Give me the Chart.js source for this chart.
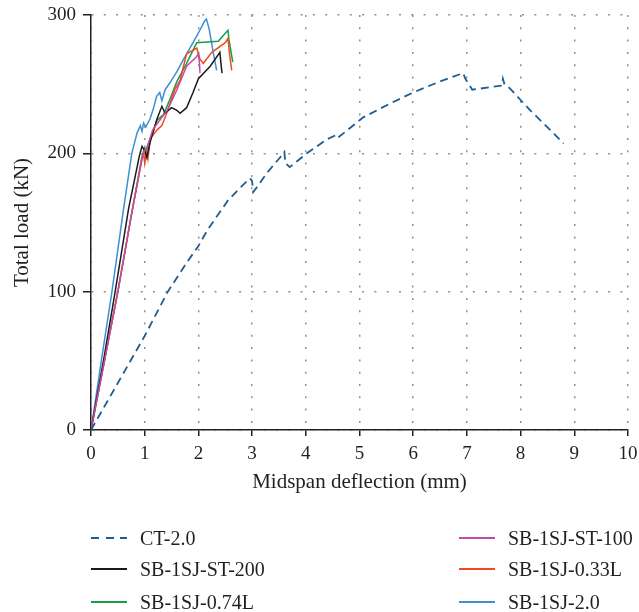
<!DOCTYPE html>
<html>
<head>
<meta charset="utf-8">
<script src="https://cdn.jsdelivr.net/npm/chart.js@4"></script>
<style>
  body { margin: 0; background: #fff; }
  #wrap { position: relative; width: 639px; height: 612px; }
  #legend { position: absolute; left: 0; top: 0; width: 639px; height: 612px; pointer-events: none;
            font-family: "Liberation Serif", serif; font-size: 20px; color: #231f20; }
  .item { position: absolute; height: 24px; line-height: 24px; white-space: nowrap; }
  .swatch { position: absolute; top: 11px; width: 36px; height: 2px; }
  .label { position: absolute; left: 49px; top: 0; }
</style>
</head>
<body>
<div id="wrap">
  <canvas id="loadChart" width="639" height="500"></canvas>
  <div id="legend"></div>
</div>
<script>
// deflection (mm) / total load (kN)
const ctX = [0, 0.5, 1.0, 1.43, 1.8, 2.0, 2.16, 2.55, 2.8, 2.96, 3.0, 3.02, 3.1, 3.28, 3.52, 3.6, 3.62, 3.7, 4.02, 4.39, 4.55, 4.58, 4.62, 5.07, 5.57, 6.0, 6.5, 6.93, 6.97, 7.1, 7.65, 7.67, 7.7, 7.8, 8.18, 8.55, 8.8];
const ctY = [0, 34, 68, 100, 122, 133, 144, 166, 176, 182, 180, 172, 176, 186, 197, 201, 193, 190, 200, 210, 213, 211, 212, 226, 236, 244, 252, 258, 254, 246, 249, 254, 250, 247, 231, 217, 207];

const st200X = [0, 0.25, 0.45, 0.7, 0.9, 0.95, 1.0, 1.04, 1.1, 1.23, 1.32, 1.38, 1.5, 1.6, 1.66, 1.78, 1.9, 2.0, 2.22, 2.4, 2.42, 2.44];
const st200Y = [0, 54, 100, 160, 198, 205, 202, 197, 208, 225, 234, 229, 233, 231, 229, 233, 244, 254, 263, 273, 265, 258];

const l074X = [0, 0.25, 0.5, 0.75, 0.95, 1.0, 1.02, 1.05, 1.1, 1.23, 1.35, 1.47, 1.6, 1.78, 1.97, 2.37, 2.55, 2.57, 2.64];
const l074Y = [0, 50, 100, 155, 198, 204, 197, 205, 210, 224, 228, 239, 252, 265, 280, 281, 289, 282, 266];

const st100X = [0, 0.25, 0.5, 0.75, 0.95, 1.0, 1.05, 1.15, 1.3, 1.42, 1.6, 1.78, 1.97, 2.0, 2.02, 2.03];
const st100Y = [0, 50, 100, 155, 196, 202, 205, 217, 225, 231, 246, 263, 270, 272, 265, 258];

const l033X = [0, 0.25, 0.5, 0.75, 0.95, 0.98, 1.0, 1.03, 1.06, 1.1, 1.15, 1.23, 1.32, 1.4, 1.56, 1.66, 1.78, 1.97, 2.03, 2.09, 2.25, 2.5, 2.55, 2.58, 2.62];
const l033Y = [0, 50, 100, 155, 196, 200, 193, 202, 196, 210, 213, 217, 220, 228, 246, 253, 272, 276, 268, 265, 273, 280, 283, 272, 260];

const sj20X = [0, 0.2, 0.39, 0.6, 0.76, 0.86, 0.92, 0.95, 0.98, 1.02, 1.1, 1.16, 1.22, 1.28, 1.32, 1.38, 1.47, 1.6, 1.71, 1.9, 2.0, 2.12, 2.15, 2.2, 2.28, 2.34];
const sj20Y = [0, 52, 100, 158, 200, 215, 220, 216, 222, 219, 225, 232, 241, 244, 238, 246, 251, 259, 267, 280, 287, 296, 297, 290, 272, 260];

const xTicks = [0, 1, 2, 3, 4, 5, 6, 7, 8, 9, 10];
const yTicks = [0, 100, 200, 300];

const FONT = '"Liberation Serif", serif';
const INK = '#231f20';

function pts(xs, ys) {
    return xs.map(function(x, i) { return { x: x, y: ys[i] }; });
}

const series = [
    { label: 'CT-2.0', x: ctX, y: ctY, color: '#1f5d91', dash: [8, 5], width: 1.8 },
    { label: 'SB-1SJ-ST-100', x: st100X, y: st100Y, color: '#c54aa6', width: 1.5 },
    { label: 'SB-1SJ-ST-200', x: st200X, y: st200Y, color: '#1a1a1a', width: 1.5 },
    { label: 'SB-1SJ-0.33L', x: l033X, y: l033Y, color: '#f04a23', width: 1.5 },
    { label: 'SB-1SJ-0.74L', x: l074X, y: l074Y, color: '#1a9c48', width: 1.5 },
    { label: 'SB-1SJ-2.0', x: sj20X, y: sj20Y, color: '#3d8fd8', width: 1.5 },
];

// legend layout: 3 rows x 2 columns, like the figure
const legendRows = [
    ['CT-2.0', 'SB-1SJ-ST-100'],
    ['SB-1SJ-ST-200', 'SB-1SJ-0.33L'],
    ['SB-1SJ-0.74L', 'SB-1SJ-2.0'],
];

document.addEventListener("DOMContentLoaded", function() {
    const datasets = series.map(function(s) {
        return {
            label: s.label,
            data: pts(s.x, s.y),
            borderColor: s.color,
            borderWidth: s.width,
            borderDash: s.dash || [],
            pointRadius: 0,
            tension: 0,
            fill: false,
        };
    });

    const ctx = document.getElementById('loadChart').getContext('2d');
    new Chart(ctx, {
        type: 'line',
        data: { datasets: datasets },
        options: {
            responsive: false,
            animation: false,
            devicePixelRatio: 1,
            layout: { padding: { top: 15, right: 11, left: 0, bottom: 0 } },
            plugins: {
                legend: { display: false },
                tooltip: { enabled: false },
            },
            scales: {
                x: {
                    type: 'linear',
                    min: 0,
                    max: 10,
                    afterFit: function(scale) {
                        scale.height = 70;
                        scale.paddingLeft = 0;
                        scale.paddingRight = 0;
                    },
                    afterBuildTicks: function(scale) { scale.ticks = xTicks.map(function(v) { return { value: v }; }); },
                    ticks: { font: { family: FONT, size: 19 }, color: INK, padding: 7, maxRotation: 0 },
                    grid: { color: '#8f8f8f', lineWidth: 1.5, tickLength: 6, tickColor: INK, tickWidth: 1.5, tickBorderDash: [] },
                    border: { color: INK, width: 1.5, dash: [2, 10.3] },
                    title: { display: true, text: 'Midspan deflection (mm)', font: { family: FONT, size: 21 }, color: INK, padding: { top: 5, bottom: 5 } },
                },
                y: {
                    min: 0,
                    max: 300,
                    afterFit: function(scale) {
                        scale.width = 91;
                        scale.paddingTop = 0;
                        scale.paddingBottom = 0;
                    },
                    afterBuildTicks: function(scale) { scale.ticks = yTicks.map(function(v) { return { value: v }; }); },
                    ticks: { font: { family: FONT, size: 19 }, color: INK, padding: 7 },
                    grid: { color: '#8f8f8f', lineWidth: 1.5, tickLength: 8, tickColor: INK, tickWidth: 1.5, tickBorderDash: [] },
                    border: { color: INK, width: 1.5, dash: [2, 10.3] },
                    title: { display: true, text: 'Total load (kN)', font: { family: FONT, size: 21 }, color: INK, padding: { top: 10, bottom: 10 } },
                },
            },
        },
    });

    // html legend built from the same series list
    const legend = document.getElementById('legend');
    const colLeft = [91, 459];
    const rowTop = [526, 557, 590];
    legendRows.forEach(function(row, r) {
        row.forEach(function(name, c) {
            const s = series.find(function(d) { return d.label === name; });
            const item = document.createElement('div');
            item.className = 'item';
            item.style.left = colLeft[c] + 'px';
            item.style.top = rowTop[r] + 'px';
            const sw = document.createElement('div');
            sw.className = 'swatch';
            if (s.dash) {
                sw.style.background = 'repeating-linear-gradient(to right, ' + s.color + ' 0 8px, transparent 8px 14.5px)';
            } else {
                sw.style.height = '1.5px';
                sw.style.background = s.color;
            }
            const lab = document.createElement('span');
            lab.className = 'label';
            lab.textContent = name;
            item.appendChild(sw);
            item.appendChild(lab);
            legend.appendChild(item);
        });
    });
});
</script>
</body>
</html>
